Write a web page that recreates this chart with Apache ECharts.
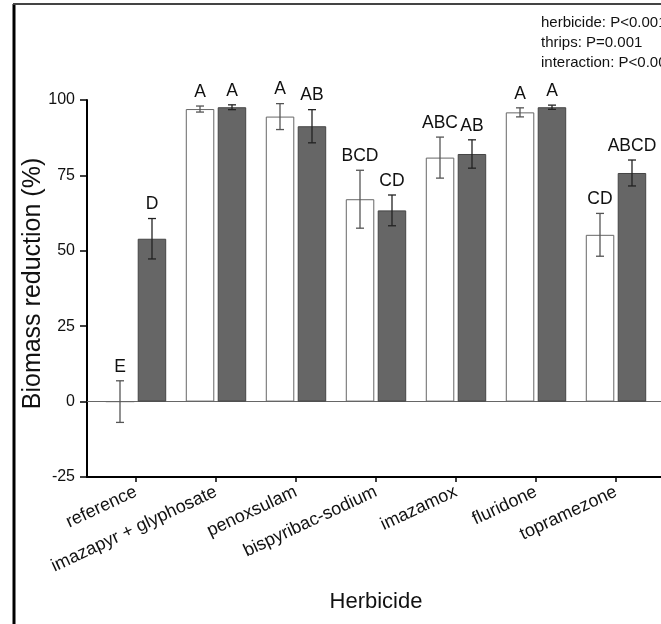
<!DOCTYPE html>
<html>
<head>
<meta charset="utf-8">
<script src="https://cdn.jsdelivr.net/npm/echarts@6/dist/echarts.min.js"></script>
<style>
html,body{margin:0;padding:0;background:#fff;}
#chart{width:661px;height:624px;}
</style>
</head>
<body>
<div id="chart"></div>
<script>
// ---- data ----
var categories = ['reference', 'imazapyr + glyphosate', 'penoxsulam', 'bispyribac-sodium', 'imazamox', 'fluridone', 'topramezone'];
var openMeans   = [0, 97.0, 94.5, 67.1, 80.9, 95.9, 55.3];
var openErr     = [6.9, 1.0, 4.3, 9.6, 6.8, 1.5, 7.1];
var openLetters = ['E', 'A', 'A', 'BCD', 'ABC', 'A', 'CD'];
var darkMeans   = [54.0, 97.6, 91.3, 63.4, 82.1, 97.6, 75.8];
var darkErr     = [6.7, 0.8, 5.5, 5.1, 4.7, 0.7, 4.3];
var darkLetters = ['D', 'A', 'AB', 'CD', 'AB', 'A', 'ABCD'];
var yMin = -25, yMax = 100, yStep = 25;
var statsLines = ['herbicide: P<0.001', 'thrips: P=0.001', 'interaction: P<0.001'];

var FONT = '"Liberation Sans", Arial, sans-serif';

function errorSeries(means, errs, letters, side, color) {
  return {
    type: 'custom',
    xAxisIndex: 2,
    yAxisIndex: 1,
    silent: true,
    z: 5,
    data: means.map(function (m, i) { return [i, m, errs[i]]; }),
    renderItem: function (params, api) {
      var i = api.value(0), m = api.value(1), e = api.value(2);
      var band = api.size([1, 0])[0];
      var x = api.coord([i, m])[0] + side * band * 0.2;
      var yt = api.coord([i, m + e])[1];
      var yb = api.coord([i, m - e])[1];
      var cap = 4;
      var ls = { stroke: color, lineWidth: 1.3 };
      return {
        type: 'group',
        children: [
          { type: 'line', shape: { x1: x, y1: yt, x2: x, y2: yb }, style: ls },
          { type: 'line', shape: { x1: x - cap, y1: yt, x2: x + cap, y2: yt }, style: ls },
          { type: 'line', shape: { x1: x - cap, y1: yb, x2: x + cap, y2: yb }, style: ls },
          { type: 'text', style: {
              text: letters[params.dataIndex], x: x, y: yt - 5,
              textAlign: 'center', textVerticalAlign: 'bottom',
              font: '17.5px ' + FONT, fill: '#111' } }
        ]
      };
    }
  };
}

var chart = echarts.init(document.getElementById('chart'), null, { renderer: 'canvas' });
chart.setOption({
  animation: false,
  backgroundColor: '#fff',
  grid: [
    { left: 87, top: 100, width: 574, height: 377 },
    { left: 96, top: 100, width: 560, height: 377 }
  ],
  xAxis: [
    { gridIndex: 0, type: 'value', min: 0, max: 1, position: 'bottom',
      axisLine: { show: true, onZero: false, lineStyle: { color: '#000', width: 2 } },
      axisTick: { show: false }, axisLabel: { show: false }, splitLine: { show: false } },
    { gridIndex: 0, type: 'value', min: 0, max: 1, position: 'top',
      axisLine: { show: true, onZero: true, lineStyle: { color: '#666', width: 1 } },
      axisTick: { show: false }, axisLabel: { show: false }, splitLine: { show: false } },
    { gridIndex: 1, type: 'category', data: categories, position: 'bottom',
      axisLine: { show: false, onZero: false },
      axisTick: { show: true, alignWithLabel: true, length: 5, lineStyle: { color: '#000', width: 1.5 } },
      axisLabel: { rotate: 25, margin: 14, fontSize: 18, color: '#111', fontFamily: FONT, interval: 0 },
      name: 'Herbicide', nameLocation: 'middle', nameGap: 114, nameMoveOverlap: false,
      nameTextStyle: { fontSize: 22, color: '#111', fontFamily: FONT },
      splitLine: { show: false } }
  ],
  yAxis: [
    { gridIndex: 0, type: 'value', min: yMin, max: yMax, interval: yStep,
      axisLine: { show: true, onZero: false, lineStyle: { color: '#000', width: 2 } },
      axisTick: { show: true, length: 7, lineStyle: { color: '#000', width: 1.5 } },
      axisLabel: { fontSize: 16, color: '#111', margin: 12, fontFamily: FONT },
      splitLine: { show: false },
      name: 'Biomass reduction (%)', nameLocation: 'middle', nameRotate: 90, nameGap: 41,
      nameMoveOverlap: false,
      nameTextStyle: { fontSize: 25, color: '#111', fontFamily: FONT, padding: [0, 0, 0, 10] } },
    { gridIndex: 1, type: 'value', min: yMin, max: yMax, interval: yStep, show: false,
      splitLine: { show: false } }
  ],
  series: [
    { name: 'without thrips', type: 'bar', xAxisIndex: 2, yAxisIndex: 1,
      data: openMeans, barWidth: 28.5, barGap: '12%',
      itemStyle: { color: '#fff', borderColor: '#666', borderWidth: 1 } },
    { name: 'with thrips', type: 'bar', xAxisIndex: 2, yAxisIndex: 1,
      data: darkMeans, barWidth: 28.5, barGap: '12%',
      itemStyle: { color: '#666', borderColor: '#444', borderWidth: 1 } },
    errorSeries(openMeans, openErr, openLetters, -1, '#555'),
    errorSeries(darkMeans, darkErr, darkLetters, 1, '#222')
  ],
  graphic: [
    { type: 'line', silent: true, shape: { x1: 14, y1: 4, x2: 14, y2: 624 }, style: { stroke: '#000', lineWidth: 3 } },
    { type: 'line', silent: true, shape: { x1: 13, y1: 4, x2: 661, y2: 4 }, style: { stroke: '#444', lineWidth: 2 } },
    { type: 'text', silent: true, x: 541, y: 13,
      style: { text: statsLines.join('\n'), font: '15px ' + FONT, fill: '#111', lineHeight: 20,
               textAlign: 'left', textVerticalAlign: 'top' } }
  ]
});
</script>
</body>
</html>
